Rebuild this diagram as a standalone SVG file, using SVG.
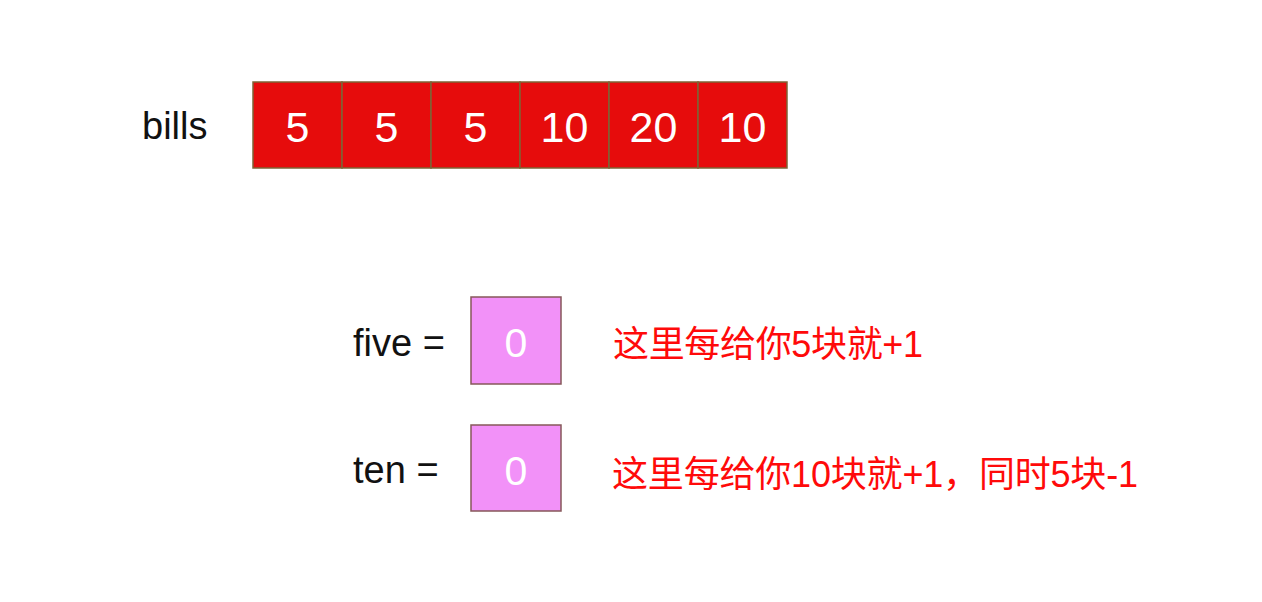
<svg xmlns="http://www.w3.org/2000/svg" width="1262" height="602" viewBox="0 0 1262 602">
<style>
.lbl{font-family:"Liberation Sans","Noto Sans CJK SC",sans-serif;font-size:38px;fill:#111}
.bill{fill:#e60c0c;stroke:#7d6436;stroke-width:1.5}
.num{font-family:"Liberation Sans",sans-serif;font-size:43px;fill:#fff;text-anchor:middle}
.box{fill:#f291f8;stroke:#86585a;stroke-width:1.5}
.note{font-family:"Liberation Sans","Noto Sans CJK SC",sans-serif;font-size:36px;fill:#ff0a0a}
</style>
<rect width="1262" height="602" fill="#fff"/>
<g id="bills-label"><text class="lbl" x="142" y="139">bills</text></g>
<g id="bills">
<g id="bill-0"><rect class="bill" x="253" y="82" width="89" height="86"/><text class="num" x="297.5" y="142">5</text></g>
<g id="bill-1"><rect class="bill" x="342" y="82" width="89" height="86"/><text class="num" x="386.5" y="142">5</text></g>
<g id="bill-2"><rect class="bill" x="431" y="82" width="89" height="86"/><text class="num" x="475.5" y="142">5</text></g>
<g id="bill-3"><rect class="bill" x="520" y="82" width="89" height="86"/><text class="num" x="564.5" y="142">10</text></g>
<g id="bill-4"><rect class="bill" x="609" y="82" width="89" height="86"/><text class="num" x="653.5" y="142">20</text></g>
<g id="bill-5"><rect class="bill" x="698" y="82" width="89" height="86"/><text class="num" x="742.5" y="142">10</text></g>
</g>
<g id="five">
<text class="lbl" x="353" y="356">five =</text>
<rect class="box" x="471" y="297" width="90" height="87"/>
<text class="num" x="516" y="357" style="font-size:41px">0</text>
</g>
<g id="ten">
<text class="lbl" x="353" y="483">ten =</text>
<rect class="box" x="471" y="425" width="90" height="86"/>
<text class="num" x="516" y="485" style="font-size:41px">0</text>
</g>
<g id="note-five"><text class="note" x="613" y="357" textLength="310" lengthAdjust="spacing">这里每给你5块就+1</text></g>
<g id="note-ten"><text class="note" x="612" y="487" textLength="526" lengthAdjust="spacing">这里每给你10块就+1，同时5块-1</text></g>
<g id="connectors"></g>
</svg>
